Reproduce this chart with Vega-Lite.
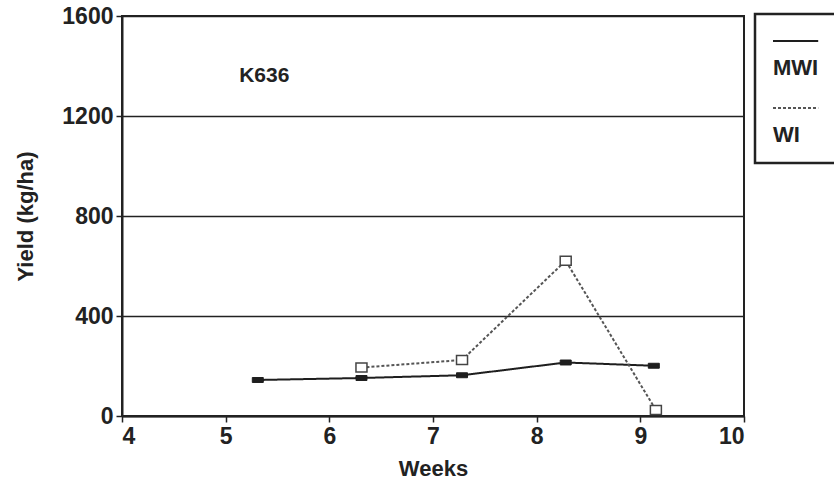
{
  "$schema": "https://vega.github.io/schema/vega-lite/v6.json",
  "width": 622,
  "height": 400,
  "autosize": {"type": "none"},
  "padding": {"left": 122, "top": 16, "right": 90, "bottom": 68},
  "background": "white",
  "config": {
    "font": "Liberation Sans",
    "view": {"stroke": "#222", "strokeWidth": 2},
    "axis": {
      "labelFont": "Liberation Sans", "labelFontWeight": "bold", "labelFontSize": 23, "labelColor": "#222",
      "titleFont": "Liberation Sans", "titleFontWeight": "bold", "titleFontSize": 22, "titleColor": "#222",
      "domainColor": "#222", "domainWidth": 2, "tickColor": "#222", "tickWidth": 1.5, "tickSize": 6, "labelPadding": 3
    },
    "legend": {
      "orient": "none", "legendX": 633, "legendY": -2, "title": null,
      "padding": 17, "strokeColor": "#222", "fillColor": "white",
      "symbolType": "stroke", "symbolSize": 2704, "symbolStrokeWidth": 2, "clipHeight": 20, "rowPadding": 19,
      "labelFont": "Liberation Sans", "labelFontSize": 22, "labelFontWeight": "bold", "labelColor": "#222",
      "labelOffset": -53, "labelBaseline": "middle"
    }
  },
  "datasets": {
    "yield": [
      {"series": "MWI", "week": 5.31, "yield": 144},
      {"series": "MWI", "week": 6.31, "yield": 152},
      {"series": "MWI", "week": 7.28, "yield": 163},
      {"series": "MWI", "week": 8.28, "yield": 214},
      {"series": "MWI", "week": 9.13, "yield": 201},
      {"series": "WI", "week": 6.31, "yield": 194},
      {"series": "WI", "week": 7.28, "yield": 224},
      {"series": "WI", "week": 8.28, "yield": 621},
      {"series": "WI", "week": 9.15, "yield": 24}
    ]
  },
  "layer": [
    {
      "data": {"name": "yield"},
      "mark": {"type": "line", "strokeWidth": 2},
      "encoding": {
        "x": {"field": "week", "type": "quantitative", "scale": {"domain": [4, 10], "nice": false},
              "axis": {"title": "Weeks", "values": [4, 5, 6, 7, 8, 9, 10], "format": "d", "grid": false, "titlePadding": 10}},
        "y": {"field": "yield", "type": "quantitative", "scale": {"domain": [0, 1600], "nice": false},
              "axis": {"title": "Yield (kg/ha)", "values": [0, 400, 800, 1200, 1600], "format": "d", "grid": true, "gridColor": "#222", "gridWidth": 1.5, "gridOpacity": 1, "titlePadding": 24}},
        "color": {"field": "series", "type": "nominal",
                  "scale": {"domain": ["MWI", "WI"], "range": ["#1e1e1e", "#555555"]},
                  "legend": {
                    "encode": {
                      "legend": {"update": {"strokeWidth": {"value": 2.5}}},
                      "labels": {"update": {"dy": {"value": 27}}}
                    }
                  }},
        "strokeDash": {"field": "series", "type": "nominal",
                       "scale": {"domain": ["MWI", "WI"], "range": [[1, 0], [3, 2]]}}
      }
    },
    {
      "data": {"name": "yield"},
      "transform": [{"filter": "datum.series === 'MWI'"}],
      "mark": {"type": "point", "shape": "M-1,-0.45H1V0.45H-1Z", "size": 121, "filled": true, "fill": "#1e1e1e", "stroke": "#1e1e1e", "strokeWidth": 1, "opacity": 1, "fillOpacity": 1},
      "encoding": {
        "x": {"field": "week", "type": "quantitative"},
        "y": {"field": "yield", "type": "quantitative"}
      }
    },
    {
      "data": {"name": "yield"},
      "transform": [{"filter": "datum.series === 'WI'"}],
      "mark": {"type": "point", "shape": "M-1,-0.8H1V0.8H-1Z", "size": 121, "filled": true, "fill": "white", "stroke": "#444444", "strokeWidth": 1.5, "opacity": 1, "fillOpacity": 1},
      "encoding": {
        "x": {"field": "week", "type": "quantitative"},
        "y": {"field": "yield", "type": "quantitative"}
      }
    },
    {
      "data": {"values": [{"week": 5.13, "yield": 1360, "label": "K636"}]},
      "mark": {"type": "text", "align": "left", "baseline": "middle", "font": "Liberation Sans", "fontWeight": "bold", "fontSize": 21, "color": "#222"},
      "encoding": {
        "x": {"field": "week", "type": "quantitative"},
        "y": {"field": "yield", "type": "quantitative"},
        "text": {"field": "label"}
      }
    }
  ]
}
